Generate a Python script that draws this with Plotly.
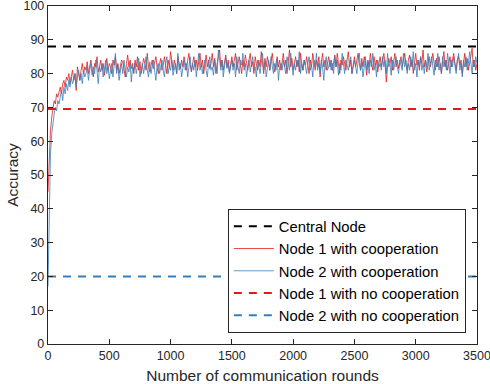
import plotly.graph_objects as go

rounds_step = 10
x_max = 3500

central_node_acc = 88
node1_nocoop_acc = 69.5
node2_nocoop_acc = 20

node1_coop = [
    45, 56, 63, 67, 70, 72, 71, 74, 73, 75, 76, 74, 77, 78, 76, 79, 78, 80, 77, 79, 81, 78, 80, 75, 82, 80, 78, 81, 83, 80, 82,
    81, 83.5, 80, 82, 84, 81.5, 79, 83, 82, 85, 80.5, 82, 84, 81, 83, 79.5, 82.5, 84.5, 81, 83,
    82, 80, 84, 82.5, 85, 81, 83, 80, 82, 84, 83.5, 81, 79, 83, 85.5, 82, 84, 81.5, 83, 80,
    84, 82, 85, 81, 83.5, 80, 82, 84.5, 83, 81, 86, 82, 80.5, 83, 84, 81.5, 83, 85, 82, 80,
    83, 84.5, 81, 82.5, 85, 83, 80, 84, 82, 86.5, 83, 81, 84, 82.5, 80, 85, 83, 81.5, 84, 82,
    85, 83, 81, 84, 86, 82.5, 80.5, 83, 85, 82, 84, 81, 83.5, 86, 82, 84, 80, 83, 85.5, 82,
    84, 81.5, 83, 86, 82, 84.5, 80, 83, 85, 87, 82, 84, 81, 83, 85.5, 82, 84, 80.5, 83, 85,
    82, 84, 86, 81, 83, 85, 82.5, 80, 84, 82, 85.5, 83, 81, 84, 86, 82, 83.5, 80, 85, 83,
    81, 84, 82, 86.5, 83, 80, 84.5, 82, 85, 83, 81, 84, 86, 82.5, 80.5, 83, 85, 82, 84, 81,
    83.5, 86, 82, 84, 80, 83, 87, 82, 84.5, 81, 83, 85, 82, 84, 80.5, 86, 83, 81, 84, 82.5,
    85, 83, 80, 84, 82, 86, 83.5, 81, 84, 82, 85, 79, 83, 86, 82, 84, 81, 83.5, 85, 82,
    84, 81, 83, 85.5, 82, 86, 83, 80, 84, 82.5, 85, 83, 81, 84, 86.5, 82, 84, 80, 83, 85,
    82, 84, 86, 83, 81, 84.5, 82, 85, 83, 79.5, 84, 82, 86, 83, 81, 85, 82.5, 84, 80.5, 83,
    85, 82, 84, 86, 83, 77.5, 82, 84.5, 83, 85, 81, 84, 86, 82, 84, 81.5, 83, 85, 82, 84,
    86, 83, 81, 84, 85.5, 82, 84, 80, 83, 86, 82.5, 84, 81, 85, 83, 87, 82, 84, 80.5, 83,
    85, 82, 84, 86, 83, 81, 84.5, 82, 85, 83, 80, 84, 86.5, 82, 84, 81, 83, 85, 82, 84,
    86, 83, 81, 84, 85, 82.5, 84, 80, 83, 86, 82, 84.5, 81, 83, 85, 87.5, 82, 84, 81, 83,
]

node2_coop = [
    17, 42, 56, 62, 66, 68, 70, 69, 72, 71, 73, 75, 72, 76, 74, 77, 75, 78, 76, 79, 77, 78, 80, 76, 79, 81, 78, 80, 77, 81, 79,
    80, 82, 78, 81, 83, 79.5, 82, 80, 84, 81, 77, 82, 80.5, 83, 79, 81, 84, 80, 82, 78.5,
    81, 83, 79, 82, 86, 80, 82.5, 78, 81, 83, 80, 84, 81, 79, 82, 80.5, 83, 77.5, 82, 81,
    83, 80, 82, 84.5, 79, 81, 83, 80, 82, 85, 81, 79, 83.5, 80, 82, 84, 81, 78, 82, 83,
    80, 82.5, 84, 81, 79, 83, 85, 80, 82, 81, 84, 79.5, 82, 83, 80, 86, 81, 83, 79, 82,
    84, 81, 83, 79, 82, 85, 80.5, 83, 81, 84, 79, 82, 86, 81, 83, 80, 82.5, 84, 81, 79,
    83, 85, 81, 82, 79.5, 84, 82, 80, 87, 83, 81, 84, 79, 82, 85, 81.5, 83, 80, 82, 84,
    81, 83, 79, 85, 82, 80, 84, 82.5, 86, 81, 83, 79, 82, 84, 80.5, 83, 85, 81, 82, 79,
    84, 82, 80, 83, 86, 81, 83.5, 79, 82, 84, 81, 85, 82, 80, 83, 81, 84.5, 78, 82, 83,
    81, 84, 82, 80, 85, 83, 81, 86, 82, 79.5, 83, 81, 84, 82, 86.5, 80, 83, 81, 84, 82,
    80, 83, 85, 81, 82.5, 79, 84, 82, 86, 81, 83, 80, 84, 82, 78, 83, 85, 81, 82, 84,
    81, 83, 80, 85, 82, 84, 79.5, 83, 81, 86, 82, 80, 84, 82.5, 81, 83, 85, 80, 82, 84,
    82, 80, 84, 86, 81, 83, 79, 82, 85, 81, 83.5, 80, 84, 82, 86, 81, 83, 79, 84, 82,
    83, 81, 85, 82, 84, 80, 86, 82, 83, 79.5, 84, 81, 83, 85, 82, 80, 84, 82.5, 81, 86,
    82, 84, 80, 83, 81, 85, 82, 86.5, 81, 83, 79, 84, 82, 85, 81, 83, 80, 84, 82, 86,
    81, 83, 85, 82, 79.5, 84, 82, 86, 81, 83, 80, 85, 82, 84, 81, 86, 83, 80, 84, 82,
    85, 82, 80, 84, 86, 81, 83, 79, 84, 82, 85, 81, 83, 86.5, 82, 80, 84, 82, 85, 83,
]

rounds = [i * rounds_step for i in range(len(node1_coop))]

x_ticks = [0, 500, 1000, 1500, 2000, 2500, 3000, 3500]
y_ticks = [0, 10, 20, 30, 40, 50, 60, 70, 80, 90, 100]

RED = "rgb(227,26,28)"
BLUE = "rgb(55,126,184)"
AX = "#262626"
FONT = "Liberation Sans, Arial, Helvetica, sans-serif"
DASH = "8px,7px"

fig = go.Figure()
fig.add_trace(go.Scatter(x=[0, x_max], y=[central_node_acc] * 2, mode="lines",
                         name="Central Node",
                         line=dict(color="black", width=2, dash=DASH)))
fig.add_trace(go.Scatter(x=rounds, y=node1_coop, mode="lines",
                         name="Node 1 with cooperation",
                         line=dict(color=RED, width=0.8)))
fig.add_trace(go.Scatter(x=rounds, y=node2_coop, mode="lines",
                         name="Node 2 with cooperation",
                         line=dict(color=BLUE, width=0.8)))
fig.add_trace(go.Scatter(x=[0, x_max], y=[node1_nocoop_acc] * 2, mode="lines",
                         name="Node 1 with no cooperation",
                         line=dict(color=RED, width=2, dash=DASH)))
fig.add_trace(go.Scatter(x=[0, x_max], y=[node2_nocoop_acc] * 2, mode="lines",
                         name="Node 2 with no cooperation",
                         line=dict(color=BLUE, width=2, dash=DASH)))

axis_common = dict(showline=True, mirror="ticks", linecolor=AX, linewidth=1.4,
                   ticks="inside", ticklen=5, tickcolor=AX, tickwidth=1,
                   showgrid=False, zeroline=False, automargin=False,
                   ticklabeloverflow="allow",
                   tickfont=dict(family=FONT, size=12.5, color=AX))

fig.update_xaxes(range=[0, x_max], tickvals=x_ticks,
                 title=dict(text="Number of communication rounds",
                            font=dict(family=FONT, size=15.5, color=AX), standoff=8),
                 **axis_common)
fig.update_yaxes(range=[0, 100], tickvals=y_ticks,
                 title=dict(text="Accuracy",
                            font=dict(family=FONT, size=15.5, color=AX), standoff=1),
                 **axis_common)

fig.update_layout(
    width=490, height=384,
    margin=dict(l=47.5, r=13, t=6, b=40, autoexpand=False),
    paper_bgcolor="white", plot_bgcolor="white",
    font=dict(family=FONT, color=AX),
    showlegend=True,
    legend=dict(x=0.974, y=0.032, xanchor="right", yanchor="bottom",
                bgcolor="white", bordercolor=AX, borderwidth=1,
                font=dict(family=FONT, size=14.8, color="black"),
                tracegroupgap=0, itemwidth=40),
)

fig.write_html("out.html", config={"displayModeBar": False},
               post_script="document.body.style.margin='0';")
